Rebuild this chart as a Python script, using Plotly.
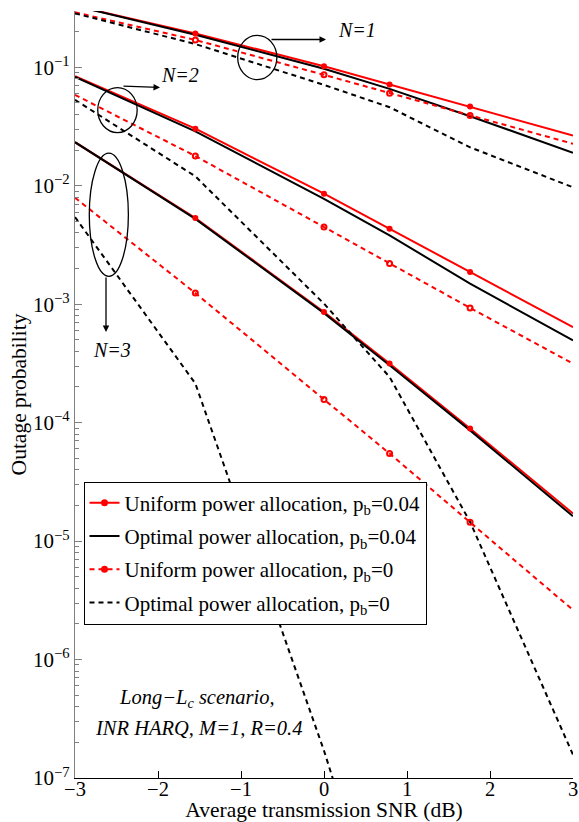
import plotly.graph_objects as go

# Average transmission SNR grid (dB); the four inner points carry markers
snr_db = [-3.0, -1.55, 0.0, 0.79, 1.76, 3.0]
marked = [1, 2, 3, 4]

# Outage probability, uniform power allocation, p_b = 0.04
uniform_pb004_n1 = [0.33, 0.193, 0.102, 0.0715, 0.0467, 0.0265]
uniform_pb004_n2 = [0.084, 0.0303, 0.00857, 0.00434, 0.00187, 0.00064]
uniform_pb004_n3 = [0.0233, 0.00533, 0.000859, 0.000316, 8.93e-5, 1.71e-5]

# Outage probability, optimal power allocation, p_b = 0.04
optimal_pb004_n1 = [0.33, 0.188, 0.097, 0.0657, 0.0386, 0.0190]
optimal_pb004_n2 = [0.083, 0.0288, 0.00776, 0.00381, 0.00149, 0.000495]
optimal_pb004_n3 = [0.0233, 0.00525, 0.00084, 0.000305, 8.6e-5, 1.62e-5]

# Outage probability, uniform power allocation, p_b = 0
uniform_pb0_n1 = [0.291, 0.170, 0.0863, 0.0604, 0.0392, 0.0226]
uniform_pb0_n2 = [0.0585, 0.0178, 0.00448, 0.0022, 0.00093, 0.000315]
uniform_pb0_n3 = [0.00792, 0.00124, 0.000157, 5.49e-5, 1.44e-5, 2.62e-6]

# Outage probability, optimal power allocation, p_b = 0
optimal_pb0_n1 = [0.285, 0.157, 0.071, 0.046, 0.0211, 0.0097]
optimal_pb0_n2 = [0.0531, 0.012, 0.00101, 0.000243, 1.45e-5, 1.57e-7]
optimal_pb0_n3 = [0.00543, 0.000214, 1.7e-7, 3e-9, None, None]

y_tick_vals = [1e-7, 1e-6, 1e-5, 1e-4, 1e-3, 1e-2, 1e-1]
y_tick_text = ["10<sup>\u2212%d</sup>" % k for k in (7, 6, 5, 4, 3, 2, 1)]
x_tick_vals = [-3, -2, -1, 0, 1, 2, 3]

FONT = "Liberation Serif, Times New Roman, serif"
RED = "#ff0000"
BLACK = "#000000"
AXIS_GRAY = "#808080"
DASH = "5px,4px"

series = [
    dict(name="Uniform power allocation, p<sub>b</sub>=0.04", color=RED, dash="solid",
         curves=[uniform_pb004_n1, uniform_pb004_n2, uniform_pb004_n3],
         symbol="circle"),
    dict(name="Optimal power allocation, p<sub>b</sub>=0.04", color=BLACK, dash="solid",
         curves=[optimal_pb004_n1, optimal_pb004_n2, optimal_pb004_n3],
         symbol=None),
    dict(name="Uniform power allocation, p<sub>b</sub>=0", color=RED, dash=DASH,
         curves=[uniform_pb0_n1, uniform_pb0_n2, uniform_pb0_n3],
         symbol="circle-open"),
    dict(name="Optimal power allocation, p<sub>b</sub>=0", color=BLACK, dash=DASH,
         curves=[optimal_pb0_n1, optimal_pb0_n2, optimal_pb0_n3],
         symbol=None),
]


def joined(curves):
    """Concatenate the N=1,2,3 curves into one trace, split by gaps."""
    xs, ys = [], []
    for c in curves:
        if xs:
            xs.append(None)
            ys.append(None)
        xs.extend(snr_db)
        ys.extend(c)
    return xs, ys


def marker_points(curves):
    xs, ys = [], []
    for c in curves:
        for i in marked:
            xs.append(snr_db[i])
            ys.append(c[i])
    return xs, ys


fig = go.Figure()

# curves
for s in series:
    xs, ys = joined(s["curves"])
    fig.add_trace(go.Scatter(
        x=xs, y=ys, mode="lines", showlegend=False, hoverinfo="skip",
        line=dict(color=s["color"], width=2, dash=s["dash"]),
    ))

# markers on top of all curves
for s in series:
    if s["symbol"] is None:
        continue
    mx, my = marker_points(s["curves"])
    if s["symbol"] == "circle":
        mk = dict(symbol="circle", size=6, color=s["color"])
    else:
        mk = dict(symbol="circle-open", size=5, color=s["color"],
                  line=dict(width=2, color=s["color"]))
    fig.add_trace(go.Scatter(x=mx, y=my, mode="markers", marker=mk,
                             showlegend=False, hoverinfo="skip"))

# legend entries
for k, s in enumerate(series):
    mode = "lines+markers" if s["symbol"] else "lines"
    fig.add_trace(go.Scatter(
        x=[None], y=[None], mode=mode, name=s["name"], legendgroup=str(k),
        line=dict(color=s["color"], width=2, dash=s["dash"]),
        marker=dict(symbol="circle", size=7, color=s["color"]),
    ))

# ---- plot-area geometry (pixels) used to place the decorations ----
W, H = 579, 822
ML, MR, MT, MB = 75, 6, 11, 44
PW, PH = W - ML - MR, H - MT - MB


def px(x):
    return (x - ML) / PW


def py(y):
    return (H - MB - y) / PH


shapes = []
# ellipses grouping the curves of each N (data coordinates)
for (x0, x1, y0, y1) in [(-1.04, -0.568, 0.0787, 0.186),
                         (-2.726, -2.251, 0.0281, 0.0674),
                         (-2.828, -2.357, 0.001718, 0.01884)]:
    shapes.append(dict(type="circle", xref="x", yref="y", x0=x0, x1=x1,
                       y0=y0, y1=y1, line=dict(color=BLACK, width=1.3)))

annotations = []
# arrows: (tail x, tail y, head x, head y) in pixels
for (tx, ty, hx, hy) in [(270, 39.5, 326, 39.5),
                         (122, 86, 160, 87.5),
                         (106, 276, 106, 332)]:
    annotations.append(dict(
        xref="paper", yref="paper", x=px(hx), y=py(hy), text="",
        showarrow=True, ax=tx - hx, ay=ty - hy, axref="pixel", ayref="pixel",
        arrowhead=2, arrowsize=1, arrowwidth=1.3, arrowcolor=BLACK,
        standoff=0, startstandoff=0,
    ))

for (label, cx, cy) in [("N=1", 357, 30), ("N=2", 180, 75), ("N=3", 112, 350)]:
    annotations.append(dict(
        xref="paper", yref="paper", x=px(cx), y=py(cy), text="<i>%s</i>" % label,
        showarrow=False, xanchor="center", yanchor="middle",
        font=dict(family=FONT, size=20, color=BLACK),
    ))

for (label, cx, cy) in [("<i>Long\u2212L<sub>c</sub> scenario,</i>", 197, 698),
                        ("<i>INR HARQ, M=1, R=0.4</i>", 198, 728)]:
    annotations.append(dict(
        xref="paper", yref="paper", x=px(cx), y=py(cy), text=label,
        showarrow=False, xanchor="center", yanchor="middle",
        font=dict(family=FONT, size=20.5, color=BLACK),
    ))

minor_vals = [m * 10.0 ** e for e in range(-7, 0) for m in range(2, 10)]

fig.update_layout(
    width=W, height=H,
    margin=dict(l=ML, r=MR, t=MT, b=MB, pad=0),
    paper_bgcolor="white", plot_bgcolor="white",
    font=dict(family=FONT, size=21, color=BLACK),
    shapes=shapes, annotations=annotations,
    legend=dict(
        x=px(83.5), y=py(481.5), xanchor="left", yanchor="top",
        bgcolor="white", bordercolor=BLACK, borderwidth=1,
        font=dict(family=FONT, size=21, color=BLACK),
        tracegroupgap=3, traceorder="grouped",
    ),
    xaxis=dict(
        range=[-3, 3], tickvals=x_tick_vals, ticks="inside", ticklen=7,
        tickcolor=BLACK, showline=True, linecolor=BLACK, linewidth=1,
        showgrid=False, zeroline=False, mirror=False,
        tickfont=dict(family=FONT, size=20.5), ticklabelstandoff=-8,
        title=dict(text="Average transmission SNR (dB)", standoff=3,
                   font=dict(family=FONT, size=21.5)),
        automargin=False,
    ),
    yaxis=dict(
        type="log", range=[-7, -0.525], tickvals=y_tick_vals,
        ticktext=y_tick_text, ticks="inside", ticklen=7, tickcolor=AXIS_GRAY,
        showline=True, linecolor=AXIS_GRAY, linewidth=1.3,
        showgrid=False, zeroline=False, mirror=False,
        tickfont=dict(family=FONT, size=21),
        minor=dict(tickvals=minor_vals, ticks="inside", ticklen=4,
                   tickcolor=AXIS_GRAY, showgrid=False),
        title=dict(text="Outage probability", standoff=0,
                   font=dict(family=FONT, size=21.5)),
        automargin=False,
    ),
)

fig.write_html("out.html")
